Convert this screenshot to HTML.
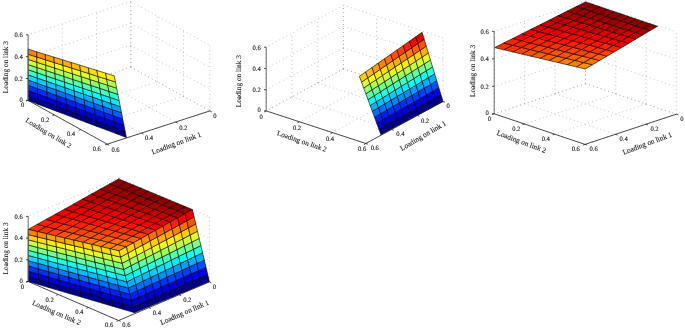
<!DOCTYPE html>
<html><head><meta charset="utf-8"><style>
html,body{margin:0;padding:0;background:#fff;}
svg{display:block;}
.g{stroke:#9a9a9a;stroke-width:0.7;stroke-dasharray:0.8 3.2;fill:none;}
.ax{stroke:#222;stroke-width:0.8;fill:none;}
.az{stroke:#5a5a5a;stroke-width:0.9;fill:none;}
.t text{font-family:"Liberation Serif","DejaVu Serif",serif;font-size:7.3px;text-rendering:geometricPrecision;fill:#1a1a1a;stroke:#1a1a1a;stroke-width:0.1px;dominant-baseline:central;}
.t text.k{font-size:6.6px;text-rendering:geometricPrecision;stroke-width:0.12px;}
</style></head><body>
<svg width="685" height="330" viewBox="0 0 685 330">
<rect width="685" height="330" fill="#fff"/>
<g><line x1="130.80" y1="67.10" x2="209.90" y2="110.90" class="g"/><line x1="130.80" y1="67.10" x2="28.10" y2="100.40" class="g"/><line x1="96.57" y1="78.20" x2="175.67" y2="122.00" class="g"/><line x1="157.17" y1="81.70" x2="54.47" y2="115.00" class="g"/><line x1="62.33" y1="89.30" x2="141.43" y2="133.10" class="g"/><line x1="183.53" y1="96.30" x2="80.83" y2="129.60" class="g"/><line x1="28.10" y1="100.40" x2="107.20" y2="144.20" class="g"/><line x1="209.90" y1="110.90" x2="107.20" y2="144.20" class="g"/><line x1="130.80" y1="67.10" x2="130.80" y2="1.50" class="g"/><line x1="130.80" y1="67.10" x2="28.10" y2="100.40" class="g"/><line x1="96.57" y1="78.20" x2="96.57" y2="12.60" class="g"/><line x1="130.80" y1="45.23" x2="28.10" y2="78.53" class="g"/><line x1="62.33" y1="89.30" x2="62.33" y2="23.70" class="g"/><line x1="130.80" y1="23.37" x2="28.10" y2="56.67" class="g"/><line x1="28.10" y1="100.40" x2="28.10" y2="34.80" class="g"/><line x1="130.80" y1="1.50" x2="28.10" y2="34.80" class="g"/><line x1="130.80" y1="67.10" x2="130.80" y2="1.50" class="g"/><line x1="130.80" y1="67.10" x2="209.90" y2="110.90" class="g"/><line x1="157.17" y1="81.70" x2="157.17" y2="16.10" class="g"/><line x1="130.80" y1="45.23" x2="209.90" y2="89.03" class="g"/><line x1="183.53" y1="96.30" x2="183.53" y2="30.70" class="g"/><line x1="130.80" y1="23.37" x2="209.90" y2="67.17" class="g"/><line x1="209.90" y1="110.90" x2="209.90" y2="45.30" class="g"/><line x1="130.80" y1="1.50" x2="209.90" y2="45.30" class="g"/></g><g stroke="#000" stroke-width="0.60" stroke-linejoin="round"><polygon points="28.10,100.60 37.93,104.29 37.81,99.04 28.10,95.45" fill="#00008f"/><polygon points="37.93,104.29 47.76,107.98 47.52,102.63 37.81,99.04" fill="#00008f"/><polygon points="47.76,107.98 57.59,111.67 57.22,106.21 47.52,102.63" fill="#00008f"/><polygon points="57.59,111.67 67.42,115.36 66.93,109.80 57.22,106.21" fill="#00008f"/><polygon points="67.42,115.36 77.25,119.05 76.64,113.39 66.93,109.80" fill="#00008f"/><polygon points="77.25,119.05 87.08,122.74 86.35,116.98 76.64,113.39" fill="#00008f"/><polygon points="87.08,122.74 96.91,126.43 96.06,120.57 86.35,116.98" fill="#00008f"/><polygon points="96.91,126.43 106.74,130.12 105.76,124.15 96.06,120.57" fill="#00008f"/><polygon points="106.74,130.12 116.57,133.81 115.47,127.74 105.76,124.15" fill="#00008f"/><polygon points="116.57,133.81 126.40,137.50 125.18,131.33 115.47,127.74" fill="#00008f"/><polygon points="28.10,95.45 37.81,99.04 37.69,93.79 28.10,90.30" fill="#0000df"/><polygon points="37.81,99.04 47.52,102.63 47.27,97.27 37.69,93.79" fill="#0000df"/><polygon points="47.52,102.63 57.22,106.21 56.86,100.76 47.27,97.27" fill="#0000df"/><polygon points="57.22,106.21 66.93,109.80 66.44,104.24 56.86,100.76" fill="#0000cf"/><polygon points="66.93,109.80 76.64,113.39 76.03,107.73 66.44,104.24" fill="#0000cf"/><polygon points="76.64,113.39 86.35,116.98 85.62,111.22 76.03,107.73" fill="#0000cf"/><polygon points="86.35,116.98 96.06,120.57 95.20,114.70 85.62,111.22" fill="#0000cf"/><polygon points="96.06,120.57 105.76,124.15 104.79,118.19 95.20,114.70" fill="#0000cf"/><polygon points="105.76,124.15 115.47,127.74 114.37,121.67 104.79,118.19" fill="#0000cf"/><polygon points="115.47,127.74 125.18,131.33 123.96,125.16 114.37,121.67" fill="#0000cf"/><polygon points="28.10,90.30 37.69,93.79 37.56,88.53 28.10,85.15" fill="#0030ff"/><polygon points="37.69,93.79 47.27,97.27 47.03,91.92 37.56,88.53" fill="#0030ff"/><polygon points="47.27,97.27 56.86,100.76 56.49,95.30 47.03,91.92" fill="#0030ff"/><polygon points="56.86,100.76 66.44,104.24 65.96,98.69 56.49,95.30" fill="#0020ff"/><polygon points="66.44,104.24 76.03,107.73 75.42,102.07 65.96,98.69" fill="#0020ff"/><polygon points="76.03,107.73 85.62,111.22 84.88,105.45 75.42,102.07" fill="#0020ff"/><polygon points="85.62,111.22 95.20,114.70 94.35,108.84 84.88,105.45" fill="#0020ff"/><polygon points="95.20,114.70 104.79,118.19 103.81,112.22 94.35,108.84" fill="#0020ff"/><polygon points="104.79,118.19 114.37,121.67 113.28,115.61 103.81,112.22" fill="#0020ff"/><polygon points="114.37,121.67 123.96,125.16 122.74,118.99 113.28,115.61" fill="#0010ff"/><polygon points="28.10,85.15 37.56,88.53 37.44,83.28 28.10,80.00" fill="#0080ff"/><polygon points="37.56,88.53 47.03,91.92 46.78,86.56 37.44,83.28" fill="#0080ff"/><polygon points="47.03,91.92 56.49,95.30 56.13,89.85 46.78,86.56" fill="#0080ff"/><polygon points="56.49,95.30 65.96,98.69 65.47,93.13 56.13,89.85" fill="#0070ff"/><polygon points="65.96,98.69 75.42,102.07 74.81,96.41 65.47,93.13" fill="#0070ff"/><polygon points="75.42,102.07 84.88,105.45 84.15,99.69 74.81,96.41" fill="#0070ff"/><polygon points="84.88,105.45 94.35,108.84 93.49,102.97 84.15,99.69" fill="#0070ff"/><polygon points="94.35,108.84 103.81,112.22 102.84,106.26 93.49,102.97" fill="#0060ff"/><polygon points="103.81,112.22 113.28,115.61 112.18,109.54 102.84,106.26" fill="#0060ff"/><polygon points="113.28,115.61 122.74,118.99 121.52,112.82 112.18,109.54" fill="#0060ff"/><polygon points="28.10,80.00 37.44,83.28 37.32,78.03 28.10,74.85" fill="#00dfff"/><polygon points="37.44,83.28 46.78,86.56 46.54,81.21 37.32,78.03" fill="#00cfff"/><polygon points="46.78,86.56 56.13,89.85 55.76,84.39 46.54,81.21" fill="#00cfff"/><polygon points="56.13,89.85 65.47,93.13 64.98,87.57 55.76,84.39" fill="#00bfff"/><polygon points="65.47,93.13 74.81,96.41 74.20,90.75 64.98,87.57" fill="#00bfff"/><polygon points="74.81,96.41 84.15,99.69 83.42,93.93 74.20,90.75" fill="#00bfff"/><polygon points="84.15,99.69 93.49,102.97 92.64,97.11 83.42,93.93" fill="#00afff"/><polygon points="93.49,102.97 102.84,106.26 101.86,100.29 92.64,97.11" fill="#00afff"/><polygon points="102.84,106.26 112.18,109.54 111.08,103.47 101.86,100.29" fill="#00afff"/><polygon points="112.18,109.54 121.52,112.82 120.30,106.65 111.08,103.47" fill="#009fff"/><polygon points="28.10,74.85 37.32,78.03 37.20,72.78 28.10,69.70" fill="#30ffcf"/><polygon points="37.32,78.03 46.54,81.21 46.30,75.86 37.20,72.78" fill="#20ffdf"/><polygon points="46.54,81.21 55.76,84.39 55.39,78.93 46.30,75.86" fill="#20ffdf"/><polygon points="55.76,84.39 64.98,87.57 64.49,82.01 55.39,78.93" fill="#10ffef"/><polygon points="64.98,87.57 74.20,90.75 73.59,85.09 64.49,82.01" fill="#10ffef"/><polygon points="74.20,90.75 83.42,93.93 82.69,88.17 73.59,85.09" fill="#10ffef"/><polygon points="83.42,93.93 92.64,97.11 91.79,91.25 82.69,88.17" fill="#00ffff"/><polygon points="92.64,97.11 101.86,100.29 100.88,94.32 91.79,91.25" fill="#00ffff"/><polygon points="101.86,100.29 111.08,103.47 109.98,97.40 100.88,94.32" fill="#00efff"/><polygon points="111.08,103.47 120.30,106.65 119.08,100.48 109.98,97.40" fill="#00efff"/><polygon points="28.10,69.70 37.20,72.78 37.08,67.53 28.10,64.55" fill="#80ff80"/><polygon points="37.20,72.78 46.30,75.86 46.05,70.50 37.08,67.53" fill="#80ff80"/><polygon points="46.30,75.86 55.39,78.93 55.03,73.48 46.05,70.50" fill="#70ff8f"/><polygon points="55.39,78.93 64.49,82.01 64.00,76.45 55.03,73.48" fill="#60ff9f"/><polygon points="64.49,82.01 73.59,85.09 72.98,79.43 64.00,76.45" fill="#60ff9f"/><polygon points="73.59,85.09 82.69,88.17 81.96,82.41 72.98,79.43" fill="#50ffaf"/><polygon points="82.69,88.17 91.79,91.25 90.93,85.38 81.96,82.41" fill="#50ffaf"/><polygon points="91.79,91.25 100.88,94.32 99.91,88.36 90.93,85.38" fill="#40ffbf"/><polygon points="100.88,94.32 109.98,97.40 108.88,91.33 99.91,88.36" fill="#40ffbf"/><polygon points="109.98,97.40 119.08,100.48 117.86,94.31 108.88,91.33" fill="#30ffcf"/><polygon points="28.10,64.55 37.08,67.53 36.95,62.27 28.10,59.40" fill="#cfff30"/><polygon points="37.08,67.53 46.05,70.50 45.81,65.15 36.95,62.27" fill="#cfff30"/><polygon points="46.05,70.50 55.03,73.48 54.66,68.02 45.81,65.15" fill="#bfff40"/><polygon points="55.03,73.48 64.00,76.45 63.52,70.90 54.66,68.02" fill="#afff50"/><polygon points="64.00,76.45 72.98,79.43 72.37,73.77 63.52,70.90" fill="#afff50"/><polygon points="72.98,79.43 81.96,82.41 81.22,76.64 72.37,73.77" fill="#9fff60"/><polygon points="81.96,82.41 90.93,85.38 90.08,79.52 81.22,76.64" fill="#9fff60"/><polygon points="90.93,85.38 99.91,88.36 98.93,82.39 90.08,79.52" fill="#8fff70"/><polygon points="99.91,88.36 108.88,91.33 107.79,85.27 98.93,82.39" fill="#80ff80"/><polygon points="108.88,91.33 117.86,94.31 116.64,88.14 107.79,85.27" fill="#80ff80"/><polygon points="28.10,59.40 36.95,62.27 36.83,57.02 28.10,54.25" fill="#ffcf00"/><polygon points="36.95,62.27 45.81,65.15 45.56,59.79 36.83,57.02" fill="#ffdf00"/><polygon points="45.81,65.15 54.66,68.02 54.30,62.57 45.56,59.79" fill="#ffef00"/><polygon points="54.66,68.02 63.52,70.90 63.03,65.34 54.30,62.57" fill="#ffff00"/><polygon points="63.52,70.90 72.37,73.77 71.76,68.11 63.03,65.34" fill="#ffff00"/><polygon points="72.37,73.77 81.22,76.64 80.49,70.88 71.76,68.11" fill="#efff10"/><polygon points="81.22,76.64 90.08,79.52 89.22,73.65 80.49,70.88" fill="#dfff20"/><polygon points="90.08,79.52 98.93,82.39 97.96,76.43 89.22,73.65" fill="#dfff20"/><polygon points="98.93,82.39 107.79,85.27 106.69,79.20 97.96,76.43" fill="#cfff30"/><polygon points="107.79,85.27 116.64,88.14 115.42,81.97 106.69,79.20" fill="#bfff40"/><polygon points="28.10,54.25 36.83,57.02 36.71,51.77 28.10,49.10" fill="#ff8000"/><polygon points="36.83,57.02 45.56,59.79 45.32,54.44 36.71,51.77" fill="#ff8f00"/><polygon points="45.56,59.79 54.30,62.57 53.93,57.11 45.32,54.44" fill="#ff9f00"/><polygon points="54.30,62.57 63.03,65.34 62.54,59.78 53.93,57.11" fill="#ffaf00"/><polygon points="63.03,65.34 71.76,68.11 71.15,62.45 62.54,59.78" fill="#ffaf00"/><polygon points="71.76,68.11 80.49,70.88 79.76,65.12 71.15,62.45" fill="#ffbf00"/><polygon points="80.49,70.88 89.22,73.65 88.37,67.79 79.76,65.12" fill="#ffcf00"/><polygon points="89.22,73.65 97.96,76.43 96.98,70.46 88.37,67.79" fill="#ffdf00"/><polygon points="97.96,76.43 106.69,79.20 105.59,73.13 96.98,70.46" fill="#ffef00"/><polygon points="106.69,79.20 115.42,81.97 114.20,75.80 105.59,73.13" fill="#ffef00"/></g><line x1="28.10" y1="100.40" x2="107.20" y2="144.20" class="ax"/><line x1="107.20" y1="144.20" x2="209.90" y2="110.90" class="ax"/><line x1="28.10" y1="100.40" x2="28.10" y2="34.80" class="az"/><line x1="28.10" y1="100.40" x2="25.90" y2="100.40" class="ax"/><line x1="28.10" y1="78.53" x2="25.90" y2="78.53" class="ax"/><line x1="28.10" y1="56.67" x2="25.90" y2="56.67" class="ax"/><line x1="28.10" y1="34.80" x2="25.90" y2="34.80" class="ax"/><line x1="28.10" y1="100.40" x2="26.01" y2="101.08" class="ax"/><line x1="54.47" y1="115.00" x2="52.37" y2="115.68" class="ax"/><line x1="80.83" y1="129.60" x2="78.74" y2="130.28" class="ax"/><line x1="107.20" y1="144.20" x2="105.11" y2="144.88" class="ax"/><line x1="209.90" y1="110.90" x2="211.82" y2="111.97" class="ax"/><line x1="175.67" y1="122.00" x2="177.59" y2="123.07" class="ax"/><line x1="141.43" y1="133.10" x2="143.36" y2="134.17" class="ax"/><line x1="107.20" y1="144.20" x2="109.12" y2="145.27" class="ax"/><g class="t"><text transform="translate(22.70 100.20) scale(1 1.000)" text-anchor="end" class="k">0</text><text transform="translate(22.70 79.33) scale(1 1.000)" text-anchor="end" class="k">0.2</text><text transform="translate(22.70 57.47) scale(1 1.000)" text-anchor="end" class="k">0.4</text><text transform="translate(22.70 35.60) scale(1 1.000)" text-anchor="end" class="k">0.6</text><text transform="translate(22.70 105.80) scale(1 1.000)" text-anchor="middle" class="k">0</text><text transform="translate(45.10 120.00) scale(1 1.000)" text-anchor="middle" class="k">0.2</text><text transform="translate(71.00 134.40) scale(1 1.000)" text-anchor="middle" class="k">0.4</text><text transform="translate(96.80 149.20) scale(1 1.000)" text-anchor="middle" class="k">0.6</text><text transform="translate(215.00 116.60) scale(1 1.000)" text-anchor="middle" class="k">0</text><text transform="translate(183.30 128.40) scale(1 1.000)" text-anchor="middle" class="k">0.2</text><text transform="translate(149.00 138.60) scale(1 1.000)" text-anchor="middle" class="k">0.4</text><text transform="translate(115.50 150.10) scale(1 1.000)" text-anchor="middle" class="k">0.6</text><text x="6.00" y="67.10" text-anchor="middle" transform="rotate(-90.00 6.00 67.10)">Loading on link 3</text><text x="48.60" y="132.90" text-anchor="middle" transform="rotate(31.00 48.60 132.90)">Loading on link 2</text><text x="176.40" y="143.10" text-anchor="middle" transform="rotate(-20.50 176.40 143.10)">Loading on link 1</text></g><g><line x1="343.40" y1="68.90" x2="443.00" y2="101.50" class="g"/><line x1="343.40" y1="68.90" x2="266.20" y2="110.90" class="g"/><line x1="317.67" y1="82.90" x2="417.27" y2="115.50" class="g"/><line x1="376.60" y1="79.77" x2="299.40" y2="121.77" class="g"/><line x1="291.93" y1="96.90" x2="391.53" y2="129.50" class="g"/><line x1="409.80" y1="90.63" x2="332.60" y2="132.63" class="g"/><line x1="266.20" y1="110.90" x2="365.80" y2="143.50" class="g"/><line x1="443.00" y1="101.50" x2="365.80" y2="143.50" class="g"/><line x1="343.40" y1="68.90" x2="343.40" y2="5.20" class="g"/><line x1="343.40" y1="68.90" x2="266.20" y2="110.90" class="g"/><line x1="317.67" y1="82.90" x2="317.67" y2="19.20" class="g"/><line x1="343.40" y1="47.67" x2="266.20" y2="89.67" class="g"/><line x1="291.93" y1="96.90" x2="291.93" y2="33.20" class="g"/><line x1="343.40" y1="26.43" x2="266.20" y2="68.43" class="g"/><line x1="266.20" y1="110.90" x2="266.20" y2="47.20" class="g"/><line x1="343.40" y1="5.20" x2="266.20" y2="47.20" class="g"/><line x1="343.40" y1="68.90" x2="343.40" y2="5.20" class="g"/><line x1="343.40" y1="68.90" x2="443.00" y2="101.50" class="g"/><line x1="376.60" y1="79.77" x2="376.60" y2="16.07" class="g"/><line x1="343.40" y1="47.67" x2="443.00" y2="80.27" class="g"/><line x1="409.80" y1="90.63" x2="409.80" y2="26.93" class="g"/><line x1="343.40" y1="26.43" x2="443.00" y2="59.03" class="g"/><line x1="443.00" y1="101.50" x2="443.00" y2="37.80" class="g"/><line x1="343.40" y1="5.20" x2="443.00" y2="37.80" class="g"/></g><g stroke="#000" stroke-width="0.60" stroke-linejoin="round"><polygon points="380.90,134.70 387.11,131.38 384.97,125.43 378.75,128.86" fill="#00008f"/><polygon points="387.11,131.38 393.32,128.06 391.18,122.00 384.97,125.43" fill="#00008f"/><polygon points="393.32,128.06 399.53,124.74 397.40,118.58 391.18,122.00" fill="#00008f"/><polygon points="399.53,124.74 405.74,121.42 403.61,115.15 397.40,118.58" fill="#00008f"/><polygon points="405.74,121.42 411.95,118.10 409.83,111.72 403.61,115.15" fill="#00008f"/><polygon points="411.95,118.10 418.16,114.78 416.05,108.29 409.83,111.72" fill="#00008f"/><polygon points="418.16,114.78 424.37,111.46 422.26,104.86 416.05,108.29" fill="#00008f"/><polygon points="424.37,111.46 430.58,108.14 428.48,101.44 422.26,104.86" fill="#00008f"/><polygon points="430.58,108.14 436.79,104.82 434.69,98.01 428.48,101.44" fill="#00008f"/><polygon points="436.79,104.82 443.00,101.50 440.91,94.58 434.69,98.01" fill="#00008f"/><polygon points="378.75,128.86 384.97,125.43 382.82,119.48 376.60,123.02" fill="#0000cf"/><polygon points="384.97,125.43 391.18,122.00 389.04,115.95 382.82,119.48" fill="#0000cf"/><polygon points="391.18,122.00 397.40,118.58 395.27,112.41 389.04,115.95" fill="#0000df"/><polygon points="397.40,118.58 403.61,115.15 401.49,108.88 395.27,112.41" fill="#0000df"/><polygon points="403.61,115.15 409.83,111.72 407.71,105.34 401.49,108.88" fill="#0000df"/><polygon points="409.83,111.72 416.05,108.29 413.93,101.80 407.71,105.34" fill="#0000df"/><polygon points="416.05,108.29 422.26,104.86 420.15,98.27 413.93,101.80" fill="#0000df"/><polygon points="422.26,104.86 428.48,101.44 426.38,94.73 420.15,98.27" fill="#0000df"/><polygon points="428.48,101.44 434.69,98.01 432.60,91.20 426.38,94.73" fill="#0000ef"/><polygon points="434.69,98.01 440.91,94.58 438.82,87.66 432.60,91.20" fill="#0000ef"/><polygon points="376.60,123.02 382.82,119.48 380.68,113.54 374.45,117.18" fill="#0020ff"/><polygon points="382.82,119.48 389.04,115.95 386.91,109.89 380.68,113.54" fill="#0020ff"/><polygon points="389.04,115.95 395.27,112.41 393.13,106.25 386.91,109.89" fill="#0030ff"/><polygon points="395.27,112.41 401.49,108.88 399.36,102.60 393.13,106.25" fill="#0030ff"/><polygon points="401.49,108.88 407.71,105.34 405.59,98.96 399.36,102.60" fill="#0030ff"/><polygon points="407.71,105.34 413.93,101.80 411.82,95.32 405.59,98.96" fill="#0040ff"/><polygon points="413.93,101.80 420.15,98.27 418.05,91.67 411.82,95.32" fill="#0040ff"/><polygon points="420.15,98.27 426.38,94.73 424.27,88.03 418.05,91.67" fill="#0040ff"/><polygon points="426.38,94.73 432.60,91.20 430.50,84.38 424.27,88.03" fill="#0050ff"/><polygon points="432.60,91.20 438.82,87.66 436.73,80.74 430.50,84.38" fill="#0050ff"/><polygon points="374.45,117.18 380.68,113.54 378.53,107.59 372.30,111.34" fill="#0070ff"/><polygon points="380.68,113.54 386.91,109.89 384.77,103.84 378.53,107.59" fill="#0070ff"/><polygon points="386.91,109.89 393.13,106.25 391.00,100.08 384.77,103.84" fill="#0080ff"/><polygon points="393.13,106.25 399.36,102.60 397.24,96.33 391.00,100.08" fill="#0080ff"/><polygon points="399.36,102.60 405.59,98.96 403.47,92.58 397.24,96.33" fill="#008fff"/><polygon points="405.59,98.96 411.82,95.32 409.70,88.83 403.47,92.58" fill="#008fff"/><polygon points="411.82,95.32 418.05,91.67 415.94,85.08 409.70,88.83" fill="#009fff"/><polygon points="418.05,91.67 424.27,88.03 422.17,81.32 415.94,85.08" fill="#009fff"/><polygon points="424.27,88.03 430.50,84.38 428.41,77.57 422.17,81.32" fill="#00afff"/><polygon points="430.50,84.38 436.73,80.74 434.64,73.82 428.41,77.57" fill="#00afff"/><polygon points="372.30,111.34 378.53,107.59 376.39,101.64 370.15,105.50" fill="#00afff"/><polygon points="378.53,107.59 384.77,103.84 382.63,97.78 376.39,101.64" fill="#00bfff"/><polygon points="384.77,103.84 391.00,100.08 388.87,93.92 382.63,97.78" fill="#00cfff"/><polygon points="391.00,100.08 397.24,96.33 395.11,90.06 388.87,93.92" fill="#00cfff"/><polygon points="397.24,96.33 403.47,92.58 401.35,86.20 395.11,90.06" fill="#00dfff"/><polygon points="403.47,92.58 409.70,88.83 407.59,82.34 401.35,86.20" fill="#00efff"/><polygon points="409.70,88.83 415.94,85.08 413.83,78.48 407.59,82.34" fill="#00ffff"/><polygon points="415.94,85.08 422.17,81.32 420.07,74.62 413.83,78.48" fill="#00ffff"/><polygon points="422.17,81.32 428.41,77.57 426.31,70.76 420.07,74.62" fill="#10ffef"/><polygon points="428.41,77.57 434.64,73.82 432.55,66.90 426.31,70.76" fill="#20ffdf"/><polygon points="370.15,105.50 376.39,101.64 374.25,95.69 368.00,99.66" fill="#00ffff"/><polygon points="376.39,101.64 382.63,97.78 380.49,91.72 374.25,95.69" fill="#10ffef"/><polygon points="382.63,97.78 388.87,93.92 386.74,87.76 380.49,91.72" fill="#20ffdf"/><polygon points="388.87,93.92 395.11,90.06 392.98,83.79 386.74,87.76" fill="#30ffcf"/><polygon points="395.11,90.06 401.35,86.20 399.23,79.82 392.98,83.79" fill="#40ffbf"/><polygon points="401.35,86.20 407.59,82.34 405.48,75.85 399.23,79.82" fill="#40ffbf"/><polygon points="407.59,82.34 413.83,78.48 411.72,71.88 405.48,75.85" fill="#50ffaf"/><polygon points="413.83,78.48 420.07,74.62 417.97,67.92 411.72,71.88" fill="#60ff9f"/><polygon points="420.07,74.62 426.31,70.76 424.21,63.95 417.97,67.92" fill="#70ff8f"/><polygon points="426.31,70.76 432.55,66.90 430.46,59.98 424.21,63.95" fill="#80ff80"/><polygon points="368.00,99.66 374.25,95.69 372.10,89.74 365.85,93.82" fill="#50ffaf"/><polygon points="374.25,95.69 380.49,91.72 378.35,85.67 372.10,89.74" fill="#60ff9f"/><polygon points="380.49,91.72 386.74,87.76 384.61,81.59 378.35,85.67" fill="#70ff8f"/><polygon points="386.74,87.76 392.98,83.79 390.86,77.52 384.61,81.59" fill="#80ff80"/><polygon points="392.98,83.79 399.23,79.82 397.11,73.44 390.86,77.52" fill="#8fff70"/><polygon points="399.23,79.82 405.48,75.85 403.36,69.36 397.11,73.44" fill="#9fff60"/><polygon points="405.48,75.85 411.72,71.88 409.61,65.29 403.36,69.36" fill="#afff50"/><polygon points="411.72,71.88 417.97,67.92 415.87,61.21 409.61,65.29" fill="#bfff40"/><polygon points="417.97,67.92 424.21,63.95 422.12,57.14 415.87,61.21" fill="#cfff30"/><polygon points="424.21,63.95 430.46,59.98 428.37,53.06 422.12,57.14" fill="#dfff20"/><polygon points="365.85,93.82 372.10,89.74 369.96,83.80 363.70,87.98" fill="#8fff70"/><polygon points="372.10,89.74 378.35,85.67 376.22,79.61 369.96,83.80" fill="#afff50"/><polygon points="378.35,85.67 384.61,81.59 382.47,75.43 376.22,79.61" fill="#bfff40"/><polygon points="384.61,81.59 390.86,77.52 388.73,71.24 382.47,75.43" fill="#cfff30"/><polygon points="390.86,77.52 397.11,73.44 394.99,67.06 388.73,71.24" fill="#dfff20"/><polygon points="397.11,73.44 403.36,69.36 401.25,62.88 394.99,67.06" fill="#ffff00"/><polygon points="403.36,69.36 409.61,65.29 407.51,58.69 401.25,62.88" fill="#ffef00"/><polygon points="409.61,65.29 415.87,61.21 413.76,54.51 407.51,58.69" fill="#ffdf00"/><polygon points="415.87,61.21 422.12,57.14 420.02,50.32 413.76,54.51" fill="#ffcf00"/><polygon points="422.12,57.14 428.37,53.06 426.28,46.14 420.02,50.32" fill="#ffaf00"/><polygon points="363.70,87.98 369.96,83.80 367.81,77.85 361.55,82.14" fill="#dfff20"/><polygon points="369.96,83.80 376.22,79.61 374.08,73.56 367.81,77.85" fill="#ffff00"/><polygon points="376.22,79.61 382.47,75.43 380.34,69.26 374.08,73.56" fill="#ffef00"/><polygon points="382.47,75.43 388.73,71.24 386.61,64.97 380.34,69.26" fill="#ffdf00"/><polygon points="388.73,71.24 394.99,67.06 392.87,60.68 386.61,64.97" fill="#ffbf00"/><polygon points="394.99,67.06 401.25,62.88 399.13,56.39 392.87,60.68" fill="#ffaf00"/><polygon points="401.25,62.88 407.51,58.69 405.40,52.10 399.13,56.39" fill="#ff8f00"/><polygon points="407.51,58.69 413.76,54.51 411.66,47.80 405.40,52.10" fill="#ff8000"/><polygon points="413.76,54.51 420.02,50.32 417.93,43.51 411.66,47.80" fill="#ff6000"/><polygon points="420.02,50.32 426.28,46.14 424.19,39.22 417.93,43.51" fill="#ff5000"/><polygon points="361.55,82.14 367.81,77.85 365.67,71.90 359.40,76.30" fill="#ffcf00"/><polygon points="367.81,77.85 374.08,73.56 371.94,67.50 365.67,71.90" fill="#ffbf00"/><polygon points="374.08,73.56 380.34,69.26 378.21,63.10 371.94,67.50" fill="#ff9f00"/><polygon points="380.34,69.26 386.61,64.97 384.48,58.70 378.21,63.10" fill="#ff8000"/><polygon points="386.61,64.97 392.87,60.68 390.75,54.30 384.48,58.70" fill="#ff7000"/><polygon points="392.87,60.68 399.13,56.39 397.02,49.90 390.75,54.30" fill="#ff5000"/><polygon points="399.13,56.39 405.40,52.10 403.29,45.50 397.02,49.90" fill="#ff4000"/><polygon points="405.40,52.10 411.66,47.80 409.56,41.10 403.29,45.50" fill="#ff2000"/><polygon points="411.66,47.80 417.93,43.51 415.83,36.70 409.56,41.10" fill="#ff0000"/><polygon points="417.93,43.51 424.19,39.22 422.10,32.30 415.83,36.70" fill="#ef0000"/></g><line x1="266.20" y1="110.90" x2="365.80" y2="143.50" class="ax"/><line x1="365.80" y1="143.50" x2="443.00" y2="101.50" class="ax"/><line x1="266.20" y1="110.90" x2="266.20" y2="47.20" class="az"/><line x1="266.20" y1="110.90" x2="264.00" y2="110.90" class="ax"/><line x1="266.20" y1="89.67" x2="264.00" y2="89.67" class="ax"/><line x1="266.20" y1="68.43" x2="264.00" y2="68.43" class="ax"/><line x1="266.20" y1="47.20" x2="264.00" y2="47.20" class="ax"/><line x1="266.20" y1="110.90" x2="264.27" y2="111.95" class="ax"/><line x1="299.40" y1="121.77" x2="297.47" y2="122.82" class="ax"/><line x1="332.60" y1="132.63" x2="330.67" y2="133.68" class="ax"/><line x1="365.80" y1="143.50" x2="363.87" y2="144.55" class="ax"/><line x1="443.00" y1="101.50" x2="445.09" y2="102.18" class="ax"/><line x1="417.27" y1="115.50" x2="419.36" y2="116.18" class="ax"/><line x1="391.53" y1="129.50" x2="393.62" y2="130.18" class="ax"/><line x1="365.80" y1="143.50" x2="367.89" y2="144.18" class="ax"/><g class="t"><text transform="translate(260.80 110.70) scale(1 1.000)" text-anchor="end" class="k">0</text><text transform="translate(260.80 90.47) scale(1 1.000)" text-anchor="end" class="k">0.2</text><text transform="translate(260.80 69.23) scale(1 1.000)" text-anchor="end" class="k">0.4</text><text transform="translate(260.80 48.00) scale(1 1.000)" text-anchor="end" class="k">0.6</text><text transform="translate(261.10 117.20) scale(1 1.000)" text-anchor="middle" class="k">0</text><text transform="translate(297.00 128.20) scale(1 1.000)" text-anchor="middle" class="k">0.2</text><text transform="translate(330.00 139.10) scale(1 1.000)" text-anchor="middle" class="k">0.4</text><text transform="translate(362.20 149.60) scale(1 1.000)" text-anchor="middle" class="k">0.6</text><text transform="translate(448.20 106.00) scale(1 1.000)" text-anchor="middle" class="k">0</text><text transform="translate(425.00 121.00) scale(1 1.000)" text-anchor="middle" class="k">0.2</text><text transform="translate(400.40 134.20) scale(1 1.000)" text-anchor="middle" class="k">0.4</text><text transform="translate(374.80 148.60) scale(1 1.000)" text-anchor="middle" class="k">0.6</text><text x="239.00" y="81.20" text-anchor="middle" transform="rotate(-90.00 239.00 81.20)">Loading on link 3</text><text x="302.00" y="141.10" text-anchor="middle" transform="rotate(19.00 302.00 141.10)">Loading on link 2</text><text x="423.00" y="135.60" text-anchor="middle" transform="rotate(-30.50 423.00 135.60)">Loading on link 1</text></g><g><line x1="585.50" y1="83.60" x2="676.30" y2="114.20" class="g"/><line x1="585.50" y1="83.60" x2="494.20" y2="113.80" class="g"/><line x1="555.07" y1="93.67" x2="645.87" y2="124.27" class="g"/><line x1="615.77" y1="93.80" x2="524.47" y2="124.00" class="g"/><line x1="524.63" y1="103.73" x2="615.43" y2="134.33" class="g"/><line x1="646.03" y1="104.00" x2="554.73" y2="134.20" class="g"/><line x1="494.20" y1="113.80" x2="585.00" y2="144.40" class="g"/><line x1="676.30" y1="114.20" x2="585.00" y2="144.40" class="g"/><line x1="585.50" y1="83.60" x2="585.50" y2="1.20" class="g"/><line x1="585.50" y1="83.60" x2="494.20" y2="113.80" class="g"/><line x1="555.07" y1="93.67" x2="555.07" y2="11.27" class="g"/><line x1="585.50" y1="56.13" x2="494.20" y2="86.33" class="g"/><line x1="524.63" y1="103.73" x2="524.63" y2="21.33" class="g"/><line x1="585.50" y1="28.67" x2="494.20" y2="58.87" class="g"/><line x1="494.20" y1="113.80" x2="494.20" y2="31.40" class="g"/><line x1="585.50" y1="1.20" x2="494.20" y2="31.40" class="g"/><line x1="585.50" y1="83.60" x2="585.50" y2="1.20" class="g"/><line x1="585.50" y1="83.60" x2="676.30" y2="114.20" class="g"/><line x1="615.77" y1="93.80" x2="615.77" y2="11.40" class="g"/><line x1="585.50" y1="56.13" x2="676.30" y2="86.73" class="g"/><line x1="646.03" y1="104.00" x2="646.03" y2="21.60" class="g"/><line x1="585.50" y1="28.67" x2="676.30" y2="59.27" class="g"/><line x1="676.30" y1="114.20" x2="676.30" y2="31.80" class="g"/><line x1="585.50" y1="1.20" x2="676.30" y2="31.80" class="g"/></g><g stroke="#000" stroke-width="0.60" stroke-linejoin="round"><polygon points="585.30,69.00 576.23,66.86 583.64,62.56 592.52,64.73" fill="#ff8f00"/><polygon points="576.23,66.86 567.16,64.72 574.75,60.39 583.64,62.56" fill="#ff8000"/><polygon points="567.16,64.72 558.09,62.58 565.87,58.22 574.75,60.39" fill="#ff8000"/><polygon points="558.09,62.58 549.02,60.44 556.99,56.05 565.87,58.22" fill="#ff7000"/><polygon points="549.02,60.44 539.95,58.30 548.11,53.88 556.99,56.05" fill="#ff6000"/><polygon points="539.95,58.30 530.88,56.16 539.22,51.71 548.11,53.88" fill="#ff6000"/><polygon points="530.88,56.16 521.81,54.02 530.34,49.54 539.22,51.71" fill="#ff5000"/><polygon points="521.81,54.02 512.74,51.88 521.46,47.37 530.34,49.54" fill="#ff4000"/><polygon points="512.74,51.88 503.67,49.74 512.57,45.20 521.46,47.37" fill="#ff3000"/><polygon points="503.67,49.74 494.60,47.60 503.69,43.03 512.57,45.20" fill="#ff3000"/><polygon points="592.52,64.73 583.64,62.56 591.04,58.26 599.74,60.46" fill="#ff7000"/><polygon points="583.64,62.56 574.75,60.39 582.35,56.06 591.04,58.26" fill="#ff7000"/><polygon points="574.75,60.39 565.87,58.22 573.65,53.86 582.35,56.06" fill="#ff6000"/><polygon points="565.87,58.22 556.99,56.05 564.96,51.66 573.65,53.86" fill="#ff5000"/><polygon points="556.99,56.05 548.11,53.88 556.26,49.46 564.96,51.66" fill="#ff5000"/><polygon points="548.11,53.88 539.22,51.71 547.56,47.26 556.26,49.46" fill="#ff4000"/><polygon points="539.22,51.71 530.34,49.54 538.87,45.06 547.56,47.26" fill="#ff4000"/><polygon points="530.34,49.54 521.46,47.37 530.17,42.86 538.87,45.06" fill="#ff3000"/><polygon points="521.46,47.37 512.57,45.20 521.48,40.66 530.17,42.86" fill="#ff2000"/><polygon points="512.57,45.20 503.69,43.03 512.78,38.46 521.48,40.66" fill="#ff2000"/><polygon points="599.74,60.46 591.04,58.26 598.45,53.96 606.96,56.19" fill="#ff6000"/><polygon points="591.04,58.26 582.35,56.06 589.94,51.73 598.45,53.96" fill="#ff5000"/><polygon points="582.35,56.06 573.65,53.86 581.43,49.50 589.94,51.73" fill="#ff4000"/><polygon points="573.65,53.86 564.96,51.66 572.92,47.27 581.43,49.50" fill="#ff4000"/><polygon points="564.96,51.66 556.26,49.46 564.42,45.04 572.92,47.27" fill="#ff3000"/><polygon points="556.26,49.46 547.56,47.26 555.91,42.81 564.42,45.04" fill="#ff3000"/><polygon points="547.56,47.26 538.87,45.06 547.40,40.58 555.91,42.81" fill="#ff2000"/><polygon points="538.87,45.06 530.17,42.86 538.89,38.35 547.40,40.58" fill="#ff2000"/><polygon points="530.17,42.86 521.48,40.66 530.38,36.12 538.89,38.35" fill="#ff1000"/><polygon points="521.48,40.66 512.78,38.46 521.87,33.89 530.38,36.12" fill="#ff0000"/><polygon points="606.96,56.19 598.45,53.96 605.86,49.66 614.18,51.92" fill="#ff4000"/><polygon points="598.45,53.96 589.94,51.73 597.54,47.40 605.86,49.66" fill="#ff3000"/><polygon points="589.94,51.73 581.43,49.50 589.21,45.14 597.54,47.40" fill="#ff3000"/><polygon points="581.43,49.50 572.92,47.27 580.89,42.88 589.21,45.14" fill="#ff2000"/><polygon points="572.92,47.27 564.42,45.04 572.57,40.62 580.89,42.88" fill="#ff2000"/><polygon points="564.42,45.04 555.91,42.81 564.25,38.36 572.57,40.62" fill="#ff1000"/><polygon points="555.91,42.81 547.40,40.58 555.93,36.10 564.25,38.36" fill="#ff1000"/><polygon points="547.40,40.58 538.89,38.35 547.60,33.84 555.93,36.10" fill="#ff0000"/><polygon points="538.89,38.35 530.38,36.12 539.28,31.58 547.60,33.84" fill="#ff0000"/><polygon points="530.38,36.12 521.87,33.89 530.96,29.32 539.28,31.58" fill="#ef0000"/><polygon points="614.18,51.92 605.86,49.66 613.26,45.36 621.40,47.65" fill="#ff2000"/><polygon points="605.86,49.66 597.54,47.40 605.13,43.07 613.26,45.36" fill="#ff2000"/><polygon points="597.54,47.40 589.21,45.14 596.99,40.78 605.13,43.07" fill="#ff1000"/><polygon points="589.21,45.14 580.89,42.88 588.86,38.49 596.99,40.78" fill="#ff1000"/><polygon points="580.89,42.88 572.57,40.62 580.73,36.20 588.86,38.49" fill="#ff0000"/><polygon points="572.57,40.62 564.25,38.36 572.59,33.91 580.73,36.20" fill="#ff0000"/><polygon points="564.25,38.36 555.93,36.10 564.46,31.62 572.59,33.91" fill="#ff0000"/><polygon points="555.93,36.10 547.60,33.84 556.32,29.33 564.46,31.62" fill="#ef0000"/><polygon points="547.60,33.84 539.28,31.58 548.19,27.04 556.32,29.33" fill="#ef0000"/><polygon points="539.28,31.58 530.96,29.32 540.05,24.75 548.19,27.04" fill="#df0000"/><polygon points="621.40,47.65 613.26,45.36 620.67,41.06 628.62,43.38" fill="#ff0000"/><polygon points="613.26,45.36 605.13,43.07 612.72,38.74 620.67,41.06" fill="#ff0000"/><polygon points="605.13,43.07 596.99,40.78 604.78,36.42 612.72,38.74" fill="#ff0000"/><polygon points="596.99,40.78 588.86,38.49 596.83,34.10 604.78,36.42" fill="#ef0000"/><polygon points="588.86,38.49 580.73,36.20 588.88,31.78 596.83,34.10" fill="#ef0000"/><polygon points="580.73,36.20 572.59,33.91 580.93,29.46 588.88,31.78" fill="#ef0000"/><polygon points="572.59,33.91 564.46,31.62 572.98,27.14 580.93,29.46" fill="#df0000"/><polygon points="564.46,31.62 556.32,29.33 565.04,24.82 572.98,27.14" fill="#df0000"/><polygon points="556.32,29.33 548.19,27.04 557.09,22.50 565.04,24.82" fill="#cf0000"/><polygon points="548.19,27.04 540.05,24.75 549.14,20.18 557.09,22.50" fill="#cf0000"/><polygon points="628.62,43.38 620.67,41.06 628.08,36.76 635.84,39.11" fill="#ef0000"/><polygon points="620.67,41.06 612.72,38.74 620.32,34.41 628.08,36.76" fill="#df0000"/><polygon points="612.72,38.74 604.78,36.42 612.56,32.06 620.32,34.41" fill="#df0000"/><polygon points="604.78,36.42 596.83,34.10 604.80,29.71 612.56,32.06" fill="#df0000"/><polygon points="596.83,34.10 588.88,31.78 597.03,27.36 604.80,29.71" fill="#cf0000"/><polygon points="588.88,31.78 580.93,29.46 589.27,25.01 597.03,27.36" fill="#cf0000"/><polygon points="580.93,29.46 572.98,27.14 581.51,22.66 589.27,25.01" fill="#cf0000"/><polygon points="572.98,27.14 565.04,24.82 573.75,20.31 581.51,22.66" fill="#cf0000"/><polygon points="565.04,24.82 557.09,22.50 565.99,17.96 573.75,20.31" fill="#bf0000"/><polygon points="557.09,22.50 549.14,20.18 558.23,15.61 565.99,17.96" fill="#bf0000"/><polygon points="635.84,39.11 628.08,36.76 635.49,32.46 643.06,34.84" fill="#cf0000"/><polygon points="628.08,36.76 620.32,34.41 627.91,30.08 635.49,32.46" fill="#cf0000"/><polygon points="620.32,34.41 612.56,32.06 620.34,27.70 627.91,30.08" fill="#bf0000"/><polygon points="612.56,32.06 604.80,29.71 612.76,25.32 620.34,27.70" fill="#bf0000"/><polygon points="604.80,29.71 597.03,27.36 605.19,22.94 612.76,25.32" fill="#bf0000"/><polygon points="597.03,27.36 589.27,25.01 597.62,20.56 605.19,22.94" fill="#bf0000"/><polygon points="589.27,25.01 581.51,22.66 590.04,18.18 597.62,20.56" fill="#bf0000"/><polygon points="581.51,22.66 573.75,20.31 582.47,15.80 590.04,18.18" fill="#af0000"/><polygon points="573.75,20.31 565.99,17.96 574.89,13.42 582.47,15.80" fill="#af0000"/><polygon points="565.99,17.96 558.23,15.61 567.32,11.04 574.89,13.42" fill="#af0000"/><polygon points="643.06,34.84 635.49,32.46 642.89,28.16 650.28,30.57" fill="#af0000"/><polygon points="635.49,32.46 627.91,30.08 635.51,25.75 642.89,28.16" fill="#af0000"/><polygon points="627.91,30.08 620.34,27.70 628.12,23.34 635.51,25.75" fill="#af0000"/><polygon points="620.34,27.70 612.76,25.32 620.73,20.93 628.12,23.34" fill="#af0000"/><polygon points="612.76,25.32 605.19,22.94 613.35,18.52 620.73,20.93" fill="#9f0000"/><polygon points="605.19,22.94 597.62,20.56 605.96,16.11 613.35,18.52" fill="#9f0000"/><polygon points="597.62,20.56 590.04,18.18 598.57,13.70 605.96,16.11" fill="#9f0000"/><polygon points="590.04,18.18 582.47,15.80 591.18,11.29 598.57,13.70" fill="#9f0000"/><polygon points="582.47,15.80 574.89,13.42 583.80,8.88 591.18,11.29" fill="#9f0000"/><polygon points="574.89,13.42 567.32,11.04 576.41,6.47 583.80,8.88" fill="#9f0000"/><polygon points="650.28,30.57 642.89,28.16 650.30,23.86 657.50,26.30" fill="#8f0000"/><polygon points="642.89,28.16 635.51,25.75 643.10,21.42 650.30,23.86" fill="#8f0000"/><polygon points="635.51,25.75 628.12,23.34 635.90,18.98 643.10,21.42" fill="#8f0000"/><polygon points="628.12,23.34 620.73,20.93 628.70,16.54 635.90,18.98" fill="#8f0000"/><polygon points="620.73,20.93 613.35,18.52 621.50,14.10 628.70,16.54" fill="#8f0000"/><polygon points="613.35,18.52 605.96,16.11 614.30,11.66 621.50,14.10" fill="#8f0000"/><polygon points="605.96,16.11 598.57,13.70 607.10,9.22 614.30,11.66" fill="#8f0000"/><polygon points="598.57,13.70 591.18,11.29 599.90,6.78 607.10,9.22" fill="#8f0000"/><polygon points="591.18,11.29 583.80,8.88 592.70,4.34 599.90,6.78" fill="#8f0000"/><polygon points="583.80,8.88 576.41,6.47 585.50,1.90 592.70,4.34" fill="#8f0000"/></g><line x1="494.20" y1="113.80" x2="585.00" y2="144.40" class="ax"/><line x1="585.00" y1="144.40" x2="676.30" y2="114.20" class="ax"/><line x1="494.20" y1="113.80" x2="494.20" y2="31.40" class="az"/><line x1="494.20" y1="113.80" x2="492.00" y2="113.80" class="ax"/><line x1="494.20" y1="86.33" x2="492.00" y2="86.33" class="ax"/><line x1="494.20" y1="58.87" x2="492.00" y2="58.87" class="ax"/><line x1="494.20" y1="31.40" x2="492.00" y2="31.40" class="ax"/><line x1="494.20" y1="113.80" x2="492.11" y2="114.49" class="ax"/><line x1="524.47" y1="124.00" x2="522.38" y2="124.69" class="ax"/><line x1="554.73" y1="134.20" x2="552.64" y2="134.89" class="ax"/><line x1="585.00" y1="144.40" x2="582.91" y2="145.09" class="ax"/><line x1="676.30" y1="114.20" x2="678.38" y2="114.90" class="ax"/><line x1="645.87" y1="124.27" x2="647.95" y2="124.97" class="ax"/><line x1="615.43" y1="134.33" x2="617.52" y2="135.04" class="ax"/><line x1="585.00" y1="144.40" x2="587.08" y2="145.10" class="ax"/><g class="t"><text transform="translate(488.80 113.60) scale(1 1.000)" text-anchor="end" class="k">0</text><text transform="translate(488.80 87.13) scale(1 1.000)" text-anchor="end" class="k">0.2</text><text transform="translate(488.80 59.67) scale(1 1.000)" text-anchor="end" class="k">0.4</text><text transform="translate(488.80 32.20) scale(1 1.000)" text-anchor="end" class="k">0.6</text><text transform="translate(489.30 119.10) scale(1 1.000)" text-anchor="middle" class="k">0</text><text transform="translate(516.30 129.40) scale(1 1.000)" text-anchor="middle" class="k">0.2</text><text transform="translate(545.80 139.20) scale(1 1.000)" text-anchor="middle" class="k">0.4</text><text transform="translate(575.80 149.10) scale(1 1.000)" text-anchor="middle" class="k">0.6</text><text transform="translate(681.80 119.00) scale(1 1.000)" text-anchor="middle" class="k">0</text><text transform="translate(654.50 129.50) scale(1 1.000)" text-anchor="middle" class="k">0.2</text><text transform="translate(623.60 139.30) scale(1 1.000)" text-anchor="middle" class="k">0.4</text><text transform="translate(593.60 149.50) scale(1 1.000)" text-anchor="middle" class="k">0.6</text><text x="472.50" y="71.00" text-anchor="middle" transform="rotate(-90.00 472.50 71.00)">Loading on link 3</text><text x="521.50" y="141.50" text-anchor="middle" transform="rotate(20.50 521.50 141.50)">Loading on link 2</text><text x="647.20" y="143.30" text-anchor="middle" transform="rotate(-20.50 647.20 143.30)">Loading on link 1</text></g><g><line x1="119.00" y1="242.90" x2="209.40" y2="281.90" class="g"/><line x1="119.00" y1="242.90" x2="28.20" y2="281.50" class="g"/><line x1="88.73" y1="255.77" x2="179.13" y2="294.77" class="g"/><line x1="149.13" y1="255.90" x2="58.33" y2="294.50" class="g"/><line x1="58.47" y1="268.63" x2="148.87" y2="307.63" class="g"/><line x1="179.27" y1="268.90" x2="88.47" y2="307.50" class="g"/><line x1="28.20" y1="281.50" x2="118.60" y2="320.50" class="g"/><line x1="209.40" y1="281.90" x2="118.60" y2="320.50" class="g"/><line x1="119.00" y1="242.90" x2="119.00" y2="177.80" class="g"/><line x1="119.00" y1="242.90" x2="28.20" y2="281.50" class="g"/><line x1="88.73" y1="255.77" x2="88.73" y2="190.67" class="g"/><line x1="119.00" y1="221.20" x2="28.20" y2="259.80" class="g"/><line x1="58.47" y1="268.63" x2="58.47" y2="203.53" class="g"/><line x1="119.00" y1="199.50" x2="28.20" y2="238.10" class="g"/><line x1="28.20" y1="281.50" x2="28.20" y2="216.40" class="g"/><line x1="119.00" y1="177.80" x2="28.20" y2="216.40" class="g"/><line x1="119.00" y1="242.90" x2="119.00" y2="177.80" class="g"/><line x1="119.00" y1="242.90" x2="209.40" y2="281.90" class="g"/><line x1="149.13" y1="255.90" x2="149.13" y2="190.80" class="g"/><line x1="119.00" y1="221.20" x2="209.40" y2="260.20" class="g"/><line x1="179.27" y1="268.90" x2="179.27" y2="203.80" class="g"/><line x1="119.00" y1="199.50" x2="209.40" y2="238.50" class="g"/><line x1="209.40" y1="281.90" x2="209.40" y2="216.80" class="g"/><line x1="119.00" y1="177.80" x2="209.40" y2="216.80" class="g"/></g><g stroke="#000" stroke-width="0.60" stroke-linejoin="round"><polygon points="119.10,250.90 110.01,248.75 117.51,244.53 126.43,246.77" fill="#ff8f00"/><polygon points="110.01,248.75 100.92,246.60 108.59,242.29 117.51,244.53" fill="#ff8000"/><polygon points="100.92,246.60 91.83,244.45 99.67,240.04 108.59,242.29" fill="#ff8000"/><polygon points="91.83,244.45 82.74,242.30 90.75,237.80 99.67,240.04" fill="#ff7000"/><polygon points="82.74,242.30 73.65,240.15 81.84,235.56 90.75,237.80" fill="#ff6000"/><polygon points="73.65,240.15 64.56,238.00 72.92,233.32 81.84,235.56" fill="#ff6000"/><polygon points="64.56,238.00 55.47,235.85 64.00,231.08 72.92,233.32" fill="#ff5000"/><polygon points="55.47,235.85 46.38,233.70 55.08,228.83 64.00,231.08" fill="#ff4000"/><polygon points="46.38,233.70 37.29,231.55 46.16,226.59 55.08,228.83" fill="#ff3000"/><polygon points="37.29,231.55 28.20,229.40 37.24,224.35 46.16,226.59" fill="#ff3000"/><polygon points="126.43,246.77 117.51,244.53 125.01,240.31 133.76,242.64" fill="#ff7000"/><polygon points="117.51,244.53 108.59,242.29 116.26,237.97 125.01,240.31" fill="#ff7000"/><polygon points="108.59,242.29 99.67,240.04 107.52,235.64 116.26,237.97" fill="#ff6000"/><polygon points="99.67,240.04 90.75,237.80 98.77,233.30 107.52,235.64" fill="#ff5000"/><polygon points="90.75,237.80 81.84,235.56 90.02,230.97 98.77,233.30" fill="#ff5000"/><polygon points="81.84,235.56 72.92,233.32 81.27,228.64 90.02,230.97" fill="#ff4000"/><polygon points="72.92,233.32 64.00,231.08 72.52,226.30 81.27,228.64" fill="#ff4000"/><polygon points="64.00,231.08 55.08,228.83 63.78,223.97 72.52,226.30" fill="#ff3000"/><polygon points="55.08,228.83 46.16,226.59 55.03,221.63 63.78,223.97" fill="#ff2000"/><polygon points="46.16,226.59 37.24,224.35 46.28,219.30 55.03,221.63" fill="#ff2000"/><polygon points="133.76,242.64 125.01,240.31 132.51,236.08 141.09,238.51" fill="#ff6000"/><polygon points="125.01,240.31 116.26,237.97 123.94,233.66 132.51,236.08" fill="#ff5000"/><polygon points="116.26,237.97 107.52,235.64 115.36,231.23 123.94,233.66" fill="#ff4000"/><polygon points="107.52,235.64 98.77,233.30 106.78,228.81 115.36,231.23" fill="#ff4000"/><polygon points="98.77,233.30 90.02,230.97 98.20,226.38 106.78,228.81" fill="#ff3000"/><polygon points="90.02,230.97 81.27,228.64 89.63,223.95 98.20,226.38" fill="#ff3000"/><polygon points="81.27,228.64 72.52,226.30 81.05,221.53 89.63,223.95" fill="#ff2000"/><polygon points="72.52,226.30 63.78,223.97 72.47,219.10 81.05,221.53" fill="#ff2000"/><polygon points="63.78,223.97 55.03,221.63 63.90,216.68 72.47,219.10" fill="#ff1000"/><polygon points="55.03,221.63 46.28,219.30 55.32,214.25 63.90,216.68" fill="#ff0000"/><polygon points="141.09,238.51 132.51,236.08 140.01,231.86 148.42,234.38" fill="#ff4000"/><polygon points="132.51,236.08 123.94,233.66 131.61,229.34 140.01,231.86" fill="#ff3000"/><polygon points="123.94,233.66 115.36,231.23 123.20,226.83 131.61,229.34" fill="#ff3000"/><polygon points="115.36,231.23 106.78,228.81 114.80,224.31 123.20,226.83" fill="#ff2000"/><polygon points="106.78,228.81 98.20,226.38 106.39,221.79 114.80,224.31" fill="#ff2000"/><polygon points="98.20,226.38 89.63,223.95 97.98,219.27 106.39,221.79" fill="#ff1000"/><polygon points="89.63,223.95 81.05,221.53 89.58,216.75 97.98,219.27" fill="#ff1000"/><polygon points="81.05,221.53 72.47,219.10 81.17,214.24 89.58,216.75" fill="#ff0000"/><polygon points="72.47,219.10 63.90,216.68 72.77,211.72 81.17,214.24" fill="#ff0000"/><polygon points="63.90,216.68 55.32,214.25 64.36,209.20 72.77,211.72" fill="#ef0000"/><polygon points="148.42,234.38 140.01,231.86 147.51,227.64 155.75,230.25" fill="#ff2000"/><polygon points="140.01,231.86 131.61,229.34 139.28,225.03 147.51,227.64" fill="#ff2000"/><polygon points="131.61,229.34 123.20,226.83 131.04,222.42 139.28,225.03" fill="#ff1000"/><polygon points="123.20,226.83 114.80,224.31 122.81,219.81 131.04,222.42" fill="#ff1000"/><polygon points="114.80,224.31 106.39,221.79 114.58,217.20 122.81,219.81" fill="#ff0000"/><polygon points="106.39,221.79 97.98,219.27 106.34,214.59 114.58,217.20" fill="#ff0000"/><polygon points="97.98,219.27 89.58,216.75 98.11,211.98 106.34,214.59" fill="#ff0000"/><polygon points="89.58,216.75 81.17,214.24 89.87,209.37 98.11,211.98" fill="#ef0000"/><polygon points="81.17,214.24 72.77,211.72 81.63,206.76 89.87,209.37" fill="#ef0000"/><polygon points="72.77,211.72 64.36,209.20 73.40,204.15 81.63,206.76" fill="#df0000"/><polygon points="155.75,230.25 147.51,227.64 155.02,223.42 163.08,226.12" fill="#ff0000"/><polygon points="147.51,227.64 139.28,225.03 146.95,220.72 155.02,223.42" fill="#ff0000"/><polygon points="139.28,225.03 131.04,222.42 138.89,218.01 146.95,220.72" fill="#ff0000"/><polygon points="131.04,222.42 122.81,219.81 130.82,215.31 138.89,218.01" fill="#ef0000"/><polygon points="122.81,219.81 114.58,217.20 122.76,212.61 130.82,215.31" fill="#ef0000"/><polygon points="114.58,217.20 106.34,214.59 114.70,209.91 122.76,212.61" fill="#ef0000"/><polygon points="106.34,214.59 98.11,211.98 106.63,207.21 114.70,209.91" fill="#df0000"/><polygon points="98.11,211.98 89.87,209.37 98.57,204.50 106.63,207.21" fill="#df0000"/><polygon points="89.87,209.37 81.63,206.76 90.50,201.80 98.57,204.50" fill="#cf0000"/><polygon points="81.63,206.76 73.40,204.15 82.44,199.10 90.50,201.80" fill="#cf0000"/><polygon points="163.08,226.12 155.02,223.42 162.52,219.20 170.41,221.99" fill="#ef0000"/><polygon points="155.02,223.42 146.95,220.72 154.62,216.40 162.52,219.20" fill="#df0000"/><polygon points="146.95,220.72 138.89,218.01 146.73,213.61 154.62,216.40" fill="#df0000"/><polygon points="138.89,218.01 130.82,215.31 138.84,210.81 146.73,213.61" fill="#df0000"/><polygon points="130.82,215.31 122.76,212.61 130.94,208.02 138.84,210.81" fill="#cf0000"/><polygon points="122.76,212.61 114.70,209.91 123.05,205.23 130.94,208.02" fill="#cf0000"/><polygon points="114.70,209.91 106.63,207.21 115.16,202.43 123.05,205.23" fill="#cf0000"/><polygon points="106.63,207.21 98.57,204.50 107.27,199.64 115.16,202.43" fill="#cf0000"/><polygon points="98.57,204.50 90.50,201.80 99.37,196.84 107.27,199.64" fill="#bf0000"/><polygon points="90.50,201.80 82.44,199.10 91.48,194.05 99.37,196.84" fill="#bf0000"/><polygon points="170.41,221.99 162.52,219.20 170.02,214.97 177.74,217.86" fill="#cf0000"/><polygon points="162.52,219.20 154.62,216.40 162.30,212.09 170.02,214.97" fill="#cf0000"/><polygon points="154.62,216.40 146.73,213.61 154.57,209.20 162.30,212.09" fill="#bf0000"/><polygon points="146.73,213.61 138.84,210.81 146.85,206.32 154.57,209.20" fill="#bf0000"/><polygon points="138.84,210.81 130.94,208.02 139.13,203.43 146.85,206.32" fill="#bf0000"/><polygon points="130.94,208.02 123.05,205.23 131.41,200.54 139.13,203.43" fill="#bf0000"/><polygon points="123.05,205.23 115.16,202.43 123.69,197.66 131.41,200.54" fill="#bf0000"/><polygon points="115.16,202.43 107.27,199.64 115.96,194.77 123.69,197.66" fill="#af0000"/><polygon points="107.27,199.64 99.37,196.84 108.24,191.89 115.96,194.77" fill="#af0000"/><polygon points="99.37,196.84 91.48,194.05 100.52,189.00 108.24,191.89" fill="#af0000"/><polygon points="177.74,217.86 170.02,214.97 177.52,210.75 185.07,213.73" fill="#af0000"/><polygon points="170.02,214.97 162.30,212.09 169.97,207.77 177.52,210.75" fill="#af0000"/><polygon points="162.30,212.09 154.57,209.20 162.42,204.80 169.97,207.77" fill="#af0000"/><polygon points="154.57,209.20 146.85,206.32 154.87,201.82 162.42,204.80" fill="#af0000"/><polygon points="146.85,206.32 139.13,203.43 147.31,198.84 154.87,201.82" fill="#9f0000"/><polygon points="139.13,203.43 131.41,200.54 139.76,195.86 147.31,198.84" fill="#9f0000"/><polygon points="131.41,200.54 123.69,197.66 132.21,192.88 139.76,195.86" fill="#9f0000"/><polygon points="123.69,197.66 115.96,194.77 124.66,189.91 132.21,192.88" fill="#9f0000"/><polygon points="115.96,194.77 108.24,191.89 117.11,186.93 124.66,189.91" fill="#9f0000"/><polygon points="108.24,191.89 100.52,189.00 109.56,183.95 117.11,186.93" fill="#9f0000"/><polygon points="185.07,213.73 177.52,210.75 185.02,206.53 192.40,209.60" fill="#8f0000"/><polygon points="177.52,210.75 169.97,207.77 177.64,203.46 185.02,206.53" fill="#8f0000"/><polygon points="169.97,207.77 162.42,204.80 170.26,200.39 177.64,203.46" fill="#8f0000"/><polygon points="162.42,204.80 154.87,201.82 162.88,197.32 170.26,200.39" fill="#8f0000"/><polygon points="154.87,201.82 147.31,198.84 155.50,194.25 162.88,197.32" fill="#8f0000"/><polygon points="147.31,198.84 139.76,195.86 148.12,191.18 155.50,194.25" fill="#8f0000"/><polygon points="139.76,195.86 132.21,192.88 140.74,188.11 148.12,191.18" fill="#8f0000"/><polygon points="132.21,192.88 124.66,189.91 133.36,185.04 140.74,188.11" fill="#8f0000"/><polygon points="124.66,189.91 117.11,186.93 125.98,181.97 133.36,185.04" fill="#8f0000"/><polygon points="117.11,186.93 109.56,183.95 118.60,178.90 125.98,181.97" fill="#8f0000"/></g><g stroke="#000" stroke-width="0.60" stroke-linejoin="round"><polygon points="28.20,281.50 38.83,284.62 38.68,279.31 28.20,276.29" fill="#00008f"/><polygon points="38.83,284.62 49.46,287.74 49.15,282.34 38.68,279.31" fill="#00008f"/><polygon points="49.46,287.74 60.09,290.86 59.63,285.36 49.15,282.34" fill="#00008f"/><polygon points="60.09,290.86 70.72,293.98 70.10,288.38 59.63,285.36" fill="#00008f"/><polygon points="70.72,293.98 81.35,297.10 80.58,291.41 70.10,288.38" fill="#00008f"/><polygon points="81.35,297.10 91.98,300.22 91.06,294.43 80.58,291.41" fill="#00008f"/><polygon points="91.98,300.22 102.61,303.34 101.53,297.45 91.06,294.43" fill="#00008f"/><polygon points="102.61,303.34 113.24,306.46 112.01,300.47 101.53,297.45" fill="#00008f"/><polygon points="113.24,306.46 123.87,309.58 122.48,303.50 112.01,300.47" fill="#00008f"/><polygon points="123.87,309.58 134.50,312.70 132.96,306.52 122.48,303.50" fill="#00008f"/><polygon points="28.20,276.29 38.68,279.31 38.52,274.01 28.20,271.08" fill="#0000df"/><polygon points="38.68,279.31 49.15,282.34 48.84,276.93 38.52,274.01" fill="#0000df"/><polygon points="49.15,282.34 59.63,285.36 59.17,279.86 48.84,276.93" fill="#0000df"/><polygon points="59.63,285.36 70.10,288.38 69.49,282.78 59.17,279.86" fill="#0000df"/><polygon points="70.10,288.38 80.58,291.41 79.81,285.71 69.49,282.78" fill="#0000cf"/><polygon points="80.58,291.41 91.06,294.43 90.13,288.64 79.81,285.71" fill="#0000cf"/><polygon points="91.06,294.43 101.53,297.45 100.45,291.56 90.13,288.64" fill="#0000cf"/><polygon points="101.53,297.45 112.01,300.47 110.78,294.49 100.45,291.56" fill="#0000cf"/><polygon points="112.01,300.47 122.48,303.50 121.10,297.41 110.78,294.49" fill="#0000cf"/><polygon points="122.48,303.50 132.96,306.52 131.42,300.34 121.10,297.41" fill="#0000cf"/><polygon points="28.20,271.08 38.52,274.01 38.37,268.70 28.20,265.87" fill="#0030ff"/><polygon points="38.52,274.01 48.84,276.93 48.54,271.53 38.37,268.70" fill="#0030ff"/><polygon points="48.84,276.93 59.17,279.86 58.70,274.36 48.54,271.53" fill="#0030ff"/><polygon points="59.17,279.86 69.49,282.78 68.87,277.19 58.70,274.36" fill="#0030ff"/><polygon points="69.49,282.78 79.81,285.71 79.04,280.02 68.87,277.19" fill="#0020ff"/><polygon points="79.81,285.71 90.13,288.64 89.21,282.84 79.04,280.02" fill="#0020ff"/><polygon points="90.13,288.64 100.45,291.56 99.38,285.67 89.21,282.84" fill="#0020ff"/><polygon points="100.45,291.56 110.78,294.49 109.54,288.50 99.38,285.67" fill="#0020ff"/><polygon points="110.78,294.49 121.10,297.41 119.71,291.33 109.54,288.50" fill="#0020ff"/><polygon points="121.10,297.41 131.42,300.34 129.88,294.16 119.71,291.33" fill="#0020ff"/><polygon points="28.20,265.87 38.37,268.70 38.21,263.39 28.20,260.66" fill="#0080ff"/><polygon points="38.37,268.70 48.54,271.53 48.23,266.12 38.21,263.39" fill="#0080ff"/><polygon points="48.54,271.53 58.70,274.36 58.24,268.86 48.23,266.12" fill="#0080ff"/><polygon points="58.70,274.36 68.87,277.19 68.26,271.59 58.24,268.86" fill="#0080ff"/><polygon points="68.87,277.19 79.04,280.02 78.27,274.32 68.26,271.59" fill="#0070ff"/><polygon points="79.04,280.02 89.21,282.84 88.28,277.05 78.27,274.32" fill="#0070ff"/><polygon points="89.21,282.84 99.38,285.67 98.30,279.78 88.28,277.05" fill="#0070ff"/><polygon points="99.38,285.67 109.54,288.50 108.31,282.52 98.30,279.78" fill="#0070ff"/><polygon points="109.54,288.50 119.71,291.33 118.33,285.25 108.31,282.52" fill="#0060ff"/><polygon points="119.71,291.33 129.88,294.16 128.34,287.98 118.33,285.25" fill="#0060ff"/><polygon points="28.20,260.66 38.21,263.39 38.06,258.09 28.20,255.45" fill="#00dfff"/><polygon points="38.21,263.39 48.23,266.12 47.92,260.72 38.06,258.09" fill="#00cfff"/><polygon points="48.23,266.12 58.24,268.86 57.78,263.36 47.92,260.72" fill="#00cfff"/><polygon points="58.24,268.86 68.26,271.59 67.64,265.99 57.78,263.36" fill="#00cfff"/><polygon points="68.26,271.59 78.27,274.32 77.50,268.62 67.64,265.99" fill="#00bfff"/><polygon points="78.27,274.32 88.28,277.05 87.36,271.26 77.50,268.62" fill="#00bfff"/><polygon points="88.28,277.05 98.30,279.78 97.22,273.89 87.36,271.26" fill="#00bfff"/><polygon points="98.30,279.78 108.31,282.52 107.08,276.53 97.22,273.89" fill="#00afff"/><polygon points="108.31,282.52 118.33,285.25 116.94,279.16 107.08,276.53" fill="#00afff"/><polygon points="118.33,285.25 128.34,287.98 126.80,281.80 116.94,279.16" fill="#00afff"/><polygon points="28.20,255.45 38.06,258.09 37.91,252.78 28.20,250.24" fill="#30ffcf"/><polygon points="38.06,258.09 47.92,260.72 47.61,255.32 37.91,252.78" fill="#20ffdf"/><polygon points="47.92,260.72 57.78,263.36 57.32,257.85 47.61,255.32" fill="#20ffdf"/><polygon points="57.78,263.36 67.64,265.99 67.02,260.39 57.32,257.85" fill="#20ffdf"/><polygon points="67.64,265.99 77.50,268.62 76.73,262.93 67.02,260.39" fill="#10ffef"/><polygon points="77.50,268.62 87.36,271.26 86.44,265.47 76.73,262.93" fill="#10ffef"/><polygon points="87.36,271.26 97.22,273.89 96.14,268.01 86.44,265.47" fill="#00ffff"/><polygon points="97.22,273.89 107.08,276.53 105.85,270.54 96.14,268.01" fill="#00ffff"/><polygon points="107.08,276.53 116.94,279.16 115.55,273.08 105.85,270.54" fill="#00ffff"/><polygon points="116.94,279.16 126.80,281.80 125.26,275.62 115.55,273.08" fill="#00efff"/><polygon points="28.20,250.24 37.91,252.78 37.75,247.47 28.20,245.03" fill="#80ff80"/><polygon points="37.91,252.78 47.61,255.32 47.30,249.91 37.75,247.47" fill="#80ff80"/><polygon points="47.61,255.32 57.32,257.85 56.86,252.35 47.30,249.91" fill="#70ff8f"/><polygon points="57.32,257.85 67.02,260.39 66.41,254.79 56.86,252.35" fill="#70ff8f"/><polygon points="67.02,260.39 76.73,262.93 75.96,257.24 66.41,254.79" fill="#60ff9f"/><polygon points="76.73,262.93 86.44,265.47 85.51,259.68 75.96,257.24" fill="#60ff9f"/><polygon points="86.44,265.47 96.14,268.01 95.06,262.12 85.51,259.68" fill="#50ffaf"/><polygon points="96.14,268.01 105.85,270.54 104.62,264.56 95.06,262.12" fill="#50ffaf"/><polygon points="105.85,270.54 115.55,273.08 114.17,267.00 104.62,264.56" fill="#40ffbf"/><polygon points="115.55,273.08 125.26,275.62 123.72,269.44 114.17,267.00" fill="#40ffbf"/><polygon points="28.20,245.03 37.75,247.47 37.60,242.16 28.20,239.82" fill="#cfff30"/><polygon points="37.75,247.47 47.30,249.91 47.00,244.51 37.60,242.16" fill="#cfff30"/><polygon points="47.30,249.91 56.86,252.35 56.39,246.85 47.00,244.51" fill="#bfff40"/><polygon points="56.86,252.35 66.41,254.79 65.79,249.20 56.39,246.85" fill="#bfff40"/><polygon points="66.41,254.79 75.96,257.24 75.19,251.54 65.79,249.20" fill="#afff50"/><polygon points="75.96,257.24 85.51,259.68 84.59,253.88 75.19,251.54" fill="#9fff60"/><polygon points="85.51,259.68 95.06,262.12 93.99,256.23 84.59,253.88" fill="#9fff60"/><polygon points="95.06,262.12 104.62,264.56 103.38,258.57 93.99,256.23" fill="#8fff70"/><polygon points="104.62,264.56 114.17,267.00 112.78,260.92 103.38,258.57" fill="#8fff70"/><polygon points="114.17,267.00 123.72,269.44 122.18,263.26 112.78,260.92" fill="#80ff80"/><polygon points="28.20,239.82 37.60,242.16 37.44,236.86 28.20,234.61" fill="#ffcf00"/><polygon points="37.60,242.16 47.00,244.51 46.69,239.10 37.44,236.86" fill="#ffdf00"/><polygon points="47.00,244.51 56.39,246.85 55.93,241.35 46.69,239.10" fill="#ffef00"/><polygon points="56.39,246.85 65.79,249.20 65.18,243.60 55.93,241.35" fill="#ffef00"/><polygon points="65.79,249.20 75.19,251.54 74.42,245.84 65.18,243.60" fill="#ffff00"/><polygon points="75.19,251.54 84.59,253.88 83.66,248.09 74.42,245.84" fill="#efff10"/><polygon points="84.59,253.88 93.99,256.23 92.91,250.34 83.66,248.09" fill="#efff10"/><polygon points="93.99,256.23 103.38,258.57 102.15,252.59 92.91,250.34" fill="#dfff20"/><polygon points="103.38,258.57 112.78,260.92 111.40,254.83 102.15,252.59" fill="#cfff30"/><polygon points="112.78,260.92 122.18,263.26 120.64,257.08 111.40,254.83" fill="#cfff30"/><polygon points="28.20,234.61 37.44,236.86 37.29,231.55 28.20,229.40" fill="#ff8000"/><polygon points="37.44,236.86 46.69,239.10 46.38,233.70 37.29,231.55" fill="#ff8f00"/><polygon points="46.69,239.10 55.93,241.35 55.47,235.85 46.38,233.70" fill="#ff9f00"/><polygon points="55.93,241.35 65.18,243.60 64.56,238.00 55.47,235.85" fill="#ff9f00"/><polygon points="65.18,243.60 74.42,245.84 73.65,240.15 64.56,238.00" fill="#ffaf00"/><polygon points="74.42,245.84 83.66,248.09 82.74,242.30 73.65,240.15" fill="#ffbf00"/><polygon points="83.66,248.09 92.91,250.34 91.83,244.45 82.74,242.30" fill="#ffcf00"/><polygon points="92.91,250.34 102.15,252.59 100.92,246.60 91.83,244.45" fill="#ffcf00"/><polygon points="102.15,252.59 111.40,254.83 110.01,248.75 100.92,246.60" fill="#ffdf00"/><polygon points="111.40,254.83 120.64,257.08 119.10,250.90 110.01,248.75" fill="#ffef00"/></g><g stroke="#000" stroke-width="0.60" stroke-linejoin="round"><polygon points="134.50,312.70 141.99,309.59 140.43,303.31 132.96,306.52" fill="#00008f"/><polygon points="141.99,309.59 149.48,306.48 147.91,300.10 140.43,303.31" fill="#00008f"/><polygon points="149.48,306.48 156.97,303.37 155.38,296.88 147.91,300.10" fill="#00008f"/><polygon points="156.97,303.37 164.46,300.26 162.86,293.67 155.38,296.88" fill="#00008f"/><polygon points="164.46,300.26 171.95,297.15 170.33,290.46 162.86,293.67" fill="#00008f"/><polygon points="171.95,297.15 179.44,294.04 177.80,287.25 170.33,290.46" fill="#00008f"/><polygon points="179.44,294.04 186.93,290.93 185.28,284.04 177.80,287.25" fill="#00008f"/><polygon points="186.93,290.93 194.42,287.82 192.75,280.82 185.28,284.04" fill="#00008f"/><polygon points="194.42,287.82 201.91,284.71 200.23,277.61 192.75,280.82" fill="#00008f"/><polygon points="201.91,284.71 209.40,281.60 207.70,274.40 200.23,277.61" fill="#00008f"/><polygon points="132.96,306.52 140.43,303.31 138.88,297.03 131.42,300.34" fill="#0000cf"/><polygon points="140.43,303.31 147.91,300.10 146.34,293.71 138.88,297.03" fill="#0000cf"/><polygon points="147.91,300.10 155.38,296.88 153.79,290.40 146.34,293.71" fill="#0000cf"/><polygon points="155.38,296.88 162.86,293.67 161.25,287.08 153.79,290.40" fill="#0000df"/><polygon points="162.86,293.67 170.33,290.46 168.71,283.77 161.25,287.08" fill="#0000df"/><polygon points="170.33,290.46 177.80,287.25 176.17,280.46 168.71,283.77" fill="#0000df"/><polygon points="177.80,287.25 185.28,284.04 183.63,277.14 176.17,280.46" fill="#0000df"/><polygon points="185.28,284.04 192.75,280.82 191.08,273.83 183.63,277.14" fill="#0000df"/><polygon points="192.75,280.82 200.23,277.61 198.54,270.51 191.08,273.83" fill="#0000ef"/><polygon points="200.23,277.61 207.70,274.40 206.00,267.20 198.54,270.51" fill="#0000ef"/><polygon points="131.42,300.34 138.88,297.03 137.32,290.74 129.88,294.16" fill="#0020ff"/><polygon points="138.88,297.03 146.34,293.71 144.76,287.33 137.32,290.74" fill="#0020ff"/><polygon points="146.34,293.71 153.79,290.40 152.21,283.91 144.76,287.33" fill="#0020ff"/><polygon points="153.79,290.40 161.25,287.08 159.65,280.50 152.21,283.91" fill="#0030ff"/><polygon points="161.25,287.08 168.71,283.77 167.09,277.08 159.65,280.50" fill="#0030ff"/><polygon points="168.71,283.77 176.17,280.46 174.53,273.66 167.09,277.08" fill="#0040ff"/><polygon points="176.17,280.46 183.63,277.14 181.97,270.25 174.53,273.66" fill="#0040ff"/><polygon points="183.63,277.14 191.08,273.83 189.42,266.83 181.97,270.25" fill="#0040ff"/><polygon points="191.08,273.83 198.54,270.51 196.86,263.42 189.42,266.83" fill="#0050ff"/><polygon points="198.54,270.51 206.00,267.20 204.30,260.00 196.86,263.42" fill="#0050ff"/><polygon points="129.88,294.16 137.32,290.74 135.77,284.46 128.34,287.98" fill="#0060ff"/><polygon points="137.32,290.74 144.76,287.33 143.19,280.94 135.77,284.46" fill="#0070ff"/><polygon points="144.76,287.33 152.21,283.91 150.62,277.43 143.19,280.94" fill="#0070ff"/><polygon points="152.21,283.91 159.65,280.50 158.04,273.91 150.62,277.43" fill="#0080ff"/><polygon points="159.65,280.50 167.09,277.08 165.47,270.39 158.04,273.91" fill="#008fff"/><polygon points="167.09,277.08 174.53,273.66 172.90,266.87 165.47,270.39" fill="#008fff"/><polygon points="174.53,273.66 181.97,270.25 180.32,263.35 172.90,266.87" fill="#009fff"/><polygon points="181.97,270.25 189.42,266.83 187.75,259.84 180.32,263.35" fill="#009fff"/><polygon points="189.42,266.83 196.86,263.42 195.17,256.32 187.75,259.84" fill="#00afff"/><polygon points="196.86,263.42 204.30,260.00 202.60,252.80 195.17,256.32" fill="#00afff"/><polygon points="128.34,287.98 135.77,284.46 134.21,278.18 126.80,281.80" fill="#00afff"/><polygon points="135.77,284.46 143.19,280.94 141.62,274.56 134.21,278.18" fill="#00bfff"/><polygon points="143.19,280.94 150.62,277.43 149.03,270.94 141.62,274.56" fill="#00bfff"/><polygon points="150.62,277.43 158.04,273.91 156.44,267.32 149.03,270.94" fill="#00cfff"/><polygon points="158.04,273.91 165.47,270.39 163.85,263.70 156.44,267.32" fill="#00dfff"/><polygon points="165.47,270.39 172.90,266.87 171.26,260.08 163.85,263.70" fill="#00efff"/><polygon points="172.90,266.87 180.32,263.35 178.67,256.46 171.26,260.08" fill="#00efff"/><polygon points="180.32,263.35 187.75,259.84 186.08,252.84 178.67,256.46" fill="#00ffff"/><polygon points="187.75,259.84 195.17,256.32 193.49,249.22 186.08,252.84" fill="#10ffef"/><polygon points="195.17,256.32 202.60,252.80 200.90,245.60 193.49,249.22" fill="#20ffdf"/><polygon points="126.80,281.80 134.21,278.18 132.65,271.90 125.26,275.62" fill="#00efff"/><polygon points="134.21,278.18 141.62,274.56 140.05,268.18 132.65,271.90" fill="#00ffff"/><polygon points="141.62,274.56 149.03,270.94 147.44,264.45 140.05,268.18" fill="#10ffef"/><polygon points="149.03,270.94 156.44,267.32 154.84,260.73 147.44,264.45" fill="#20ffdf"/><polygon points="156.44,267.32 163.85,263.70 162.23,257.01 154.84,260.73" fill="#30ffcf"/><polygon points="163.85,263.70 171.26,260.08 169.62,253.29 162.23,257.01" fill="#40ffbf"/><polygon points="171.26,260.08 178.67,256.46 177.02,249.57 169.62,253.29" fill="#50ffaf"/><polygon points="178.67,256.46 186.08,252.84 184.41,245.84 177.02,249.57" fill="#60ff9f"/><polygon points="186.08,252.84 193.49,249.22 191.81,242.12 184.41,245.84" fill="#70ff8f"/><polygon points="193.49,249.22 200.90,245.60 199.20,238.40 191.81,242.12" fill="#80ff80"/><polygon points="125.26,275.62 132.65,271.90 131.10,265.62 123.72,269.44" fill="#40ffbf"/><polygon points="132.65,271.90 140.05,268.18 138.48,261.79 131.10,265.62" fill="#50ffaf"/><polygon points="140.05,268.18 147.44,264.45 145.85,257.97 138.48,261.79" fill="#60ff9f"/><polygon points="147.44,264.45 154.84,260.73 153.23,254.14 145.85,257.97" fill="#70ff8f"/><polygon points="154.84,260.73 162.23,257.01 160.61,250.32 153.23,254.14" fill="#8fff70"/><polygon points="162.23,257.01 169.62,253.29 167.99,246.50 160.61,250.32" fill="#9fff60"/><polygon points="169.62,253.29 177.02,249.57 175.37,242.67 167.99,246.50" fill="#afff50"/><polygon points="177.02,249.57 184.41,245.84 182.74,238.85 175.37,242.67" fill="#bfff40"/><polygon points="184.41,245.84 191.81,242.12 190.12,235.02 182.74,238.85" fill="#cfff30"/><polygon points="191.81,242.12 199.20,238.40 197.50,231.20 190.12,235.02" fill="#dfff20"/><polygon points="123.72,269.44 131.10,265.62 129.54,259.33 122.18,263.26" fill="#8fff70"/><polygon points="131.10,265.62 138.48,261.79 136.90,255.41 129.54,259.33" fill="#9fff60"/><polygon points="138.48,261.79 145.85,257.97 144.27,251.48 136.90,255.41" fill="#afff50"/><polygon points="145.85,257.97 153.23,254.14 151.63,247.56 144.27,251.48" fill="#cfff30"/><polygon points="153.23,254.14 160.61,250.32 158.99,243.63 151.63,247.56" fill="#dfff20"/><polygon points="160.61,250.32 167.99,246.50 166.35,239.70 158.99,243.63" fill="#efff10"/><polygon points="167.99,246.50 175.37,242.67 173.71,235.78 166.35,239.70" fill="#ffef00"/><polygon points="175.37,242.67 182.74,238.85 181.08,231.85 173.71,235.78" fill="#ffdf00"/><polygon points="182.74,238.85 190.12,235.02 188.44,227.93 181.08,231.85" fill="#ffcf00"/><polygon points="190.12,235.02 197.50,231.20 195.80,224.00 188.44,227.93" fill="#ffaf00"/><polygon points="122.18,263.26 129.54,259.33 127.99,253.05 120.64,257.08" fill="#cfff30"/><polygon points="129.54,259.33 136.90,255.41 135.33,249.02 127.99,253.05" fill="#efff10"/><polygon points="136.90,255.41 144.27,251.48 142.68,245.00 135.33,249.02" fill="#ffff00"/><polygon points="144.27,251.48 151.63,247.56 150.02,240.97 142.68,245.00" fill="#ffdf00"/><polygon points="151.63,247.56 158.99,243.63 157.37,236.94 150.02,240.97" fill="#ffcf00"/><polygon points="158.99,243.63 166.35,239.70 164.72,232.91 157.37,236.94" fill="#ffaf00"/><polygon points="166.35,239.70 173.71,235.78 172.06,228.88 164.72,232.91" fill="#ff9f00"/><polygon points="173.71,235.78 181.08,231.85 179.41,224.86 172.06,228.88" fill="#ff8000"/><polygon points="181.08,231.85 188.44,227.93 186.75,220.83 179.41,224.86" fill="#ff7000"/><polygon points="188.44,227.93 195.80,224.00 194.10,216.80 186.75,220.83" fill="#ff5000"/><polygon points="120.64,257.08 127.99,253.05 126.43,246.77 119.10,250.90" fill="#ffdf00"/><polygon points="127.99,253.05 135.33,249.02 133.76,242.64 126.43,246.77" fill="#ffcf00"/><polygon points="135.33,249.02 142.68,245.00 141.09,238.51 133.76,242.64" fill="#ffaf00"/><polygon points="142.68,245.00 150.02,240.97 148.42,234.38 141.09,238.51" fill="#ff8f00"/><polygon points="150.02,240.97 157.37,236.94 155.75,230.25 148.42,234.38" fill="#ff7000"/><polygon points="157.37,236.94 164.72,232.91 163.08,226.12 155.75,230.25" fill="#ff6000"/><polygon points="164.72,232.91 172.06,228.88 170.41,221.99 163.08,226.12" fill="#ff4000"/><polygon points="172.06,228.88 179.41,224.86 177.74,217.86 170.41,221.99" fill="#ff2000"/><polygon points="179.41,224.86 186.75,220.83 185.07,213.73 177.74,217.86" fill="#ff0000"/><polygon points="186.75,220.83 194.10,216.80 192.40,209.60 185.07,213.73" fill="#ef0000"/></g><line x1="28.20" y1="281.50" x2="118.60" y2="320.50" class="ax"/><line x1="118.60" y1="320.50" x2="209.40" y2="281.90" class="ax"/><line x1="28.20" y1="281.50" x2="28.20" y2="216.40" class="az"/><line x1="28.20" y1="281.50" x2="26.00" y2="281.50" class="ax"/><line x1="28.20" y1="259.80" x2="26.00" y2="259.80" class="ax"/><line x1="28.20" y1="238.10" x2="26.00" y2="238.10" class="ax"/><line x1="28.20" y1="216.40" x2="26.00" y2="216.40" class="ax"/><line x1="28.20" y1="281.50" x2="26.18" y2="282.36" class="ax"/><line x1="58.33" y1="294.50" x2="56.31" y2="295.36" class="ax"/><line x1="88.47" y1="307.50" x2="86.44" y2="308.36" class="ax"/><line x1="118.60" y1="320.50" x2="116.58" y2="321.36" class="ax"/><line x1="209.40" y1="281.90" x2="211.42" y2="282.77" class="ax"/><line x1="179.13" y1="294.77" x2="181.15" y2="295.64" class="ax"/><line x1="148.87" y1="307.63" x2="150.89" y2="308.50" class="ax"/><line x1="118.60" y1="320.50" x2="120.62" y2="321.37" class="ax"/><g class="t"><text transform="translate(22.80 281.30) scale(1 1.000)" text-anchor="end" class="k">0</text><text transform="translate(22.80 260.60) scale(1 1.000)" text-anchor="end" class="k">0.2</text><text transform="translate(22.80 238.90) scale(1 1.000)" text-anchor="end" class="k">0.4</text><text transform="translate(22.80 217.20) scale(1 1.000)" text-anchor="end" class="k">0.6</text><text transform="translate(22.40 287.50) scale(1 1.000)" text-anchor="middle" class="k">0</text><text transform="translate(49.70 300.20) scale(1 1.000)" text-anchor="middle" class="k">0.2</text><text transform="translate(79.30 312.20) scale(1 1.000)" text-anchor="middle" class="k">0.4</text><text transform="translate(109.10 325.80) scale(1 1.000)" text-anchor="middle" class="k">0.6</text><text transform="translate(214.50 287.20) scale(1 1.000)" text-anchor="middle" class="k">0</text><text transform="translate(187.30 300.30) scale(1 1.000)" text-anchor="middle" class="k">0.2</text><text transform="translate(156.90 313.50) scale(1 1.000)" text-anchor="middle" class="k">0.4</text><text transform="translate(126.40 325.00) scale(1 1.000)" text-anchor="middle" class="k">0.6</text><text x="5.20" y="248.40" text-anchor="middle" transform="rotate(-90.00 5.20 248.40)">Loading on link 3</text><text x="56.60" y="312.50" text-anchor="middle" transform="rotate(23.50 56.60 312.50)">Loading on link 2</text><text x="184.50" y="312.30" text-anchor="middle" transform="rotate(-23.50 184.50 312.30)">Loading on link 1</text></g>
</svg></body></html>
